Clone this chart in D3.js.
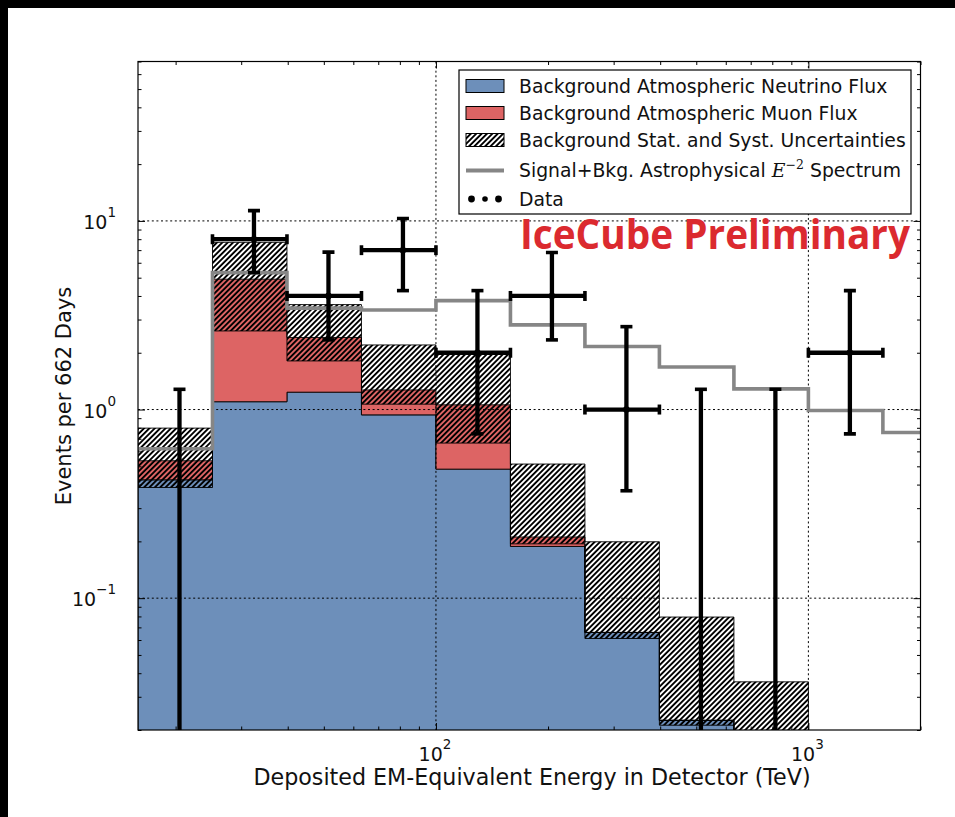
<!DOCTYPE html>
<html>
<head>
<meta charset="utf-8">
<script src="https://cdn.jsdelivr.net/npm/d3@7"></script>
<style>
  body { margin: 0; background: #000; }
  svg { display: block; }
  text { font-family: "DejaVu Sans", sans-serif; }
</style>
</head>
<body>
<svg id="chart" width="955" height="817"></svg>
<script>
// Energy bin edges (TeV), 0.2 in log10 per bin
const binEdges = [15.85, 25.12, 39.81, 63.10, 100.0, 158.5, 251.2, 398.1, 631.0, 1000, 1585, 2512];

// Background expectation per bin (events per 662 days)
const neutrino = [0.424, 1.10, 1.236, 0.937, 0.483, 0.188, 0.0658, 0.0225, 0.012];
const muon     = [0.111, 3.81, 1.174, 0.333, 0.576, 0.023, 0.0, 0.0, 0.0];
const bandLow  = [0.386, 2.61, 1.81, 1.068, 0.664, 0.194, 0.0611, 0.0212, 0.008];
const bandHigh = [0.797, 7.70, 3.60, 2.20, 1.99, 0.514, 0.199, 0.0794, 0.036];

// Signal + background, astrophysical E^-2 spectrum
const signal = [0.619, 5.32, 3.45, 3.37, 3.78, 2.81, 2.16, 1.68, 1.287, 0.988, 0.755];

// Observed events with 1-sigma interval bounds
const dataCounts = [0, 8, 4, 7, 2, 4, 1, 0, 0, 2];
const dataLow    = [0, 5.32, 2.34, 4.27, 0.743, 2.34, 0.371, 0, 0, 0.743];
const dataHigh   = [1.28, 11.34, 6.83, 10.3, 4.27, 6.8, 2.75, 1.28, 1.28, 4.27];

// Axis ticks
const xMajor = [100, 1000];
const xMajorExp = ["2", "3"];
const xMinor = [20, 30, 40, 50, 60, 70, 80, 90, 200, 300, 400, 500, 600, 700, 800, 900, 2000];
const yMajor = [0.1, 1, 10];
const yMajorExp = ["\u22121", "0", "1"];
const yMinor = [0.02, 0.03, 0.04, 0.05, 0.06, 0.07, 0.08, 0.09,
                0.2, 0.3, 0.4, 0.5, 0.6, 0.7, 0.8, 0.9,
                2, 3, 4, 5, 6, 7, 8, 9, 20, 30, 40, 50, 60, 70];

const legendLabels = [
  "Background Atmospheric Neutrino Flux",
  "Background Atmospheric Muon Flux",
  "Background Stat. and Syst. Uncertainties",
  "Signal+Bkg. Astrophysical ",
  "Data"
];

const colBlue = "#6d8fba", colRed = "#dd6464", colGray = "#868686";

const L = 138, R = 920.5, T = 61.5, B = 730;

const svg = d3.select("#chart");
svg.append("rect").attr("x", 8).attr("y", 8).attr("width", 947).attr("height", 809).attr("fill", "#fff");

const x = d3.scaleLog().domain([15.85, 2000]).range([L, R]);
const y = d3.scaleLog().domain([0.02, 70]).range([B, T]);
const yc = v => y(Math.max(v, 1e-3));

const defs = svg.append("defs");
defs.append("clipPath").attr("id", "plotClip")
  .append("rect").attr("x", L).attr("y", T).attr("width", R - L).attr("height", B - T);

const hatch = defs.append("pattern").attr("id", "hatch")
  .attr("patternUnits", "userSpaceOnUse").attr("width", 3.8).attr("height", 3.8)
  .attr("patternTransform", "rotate(45)");
hatch.append("line").attr("x1", 1.9).attr("y1", -1).attr("x2", 1.9).attr("y2", 5)
  .attr("stroke", "#000").attr("stroke-width", 1.9);

// step outline of a per-bin series
function steps(vals) {
  const pts = [];
  vals.forEach((v, i) => {
    pts.push([x(binEdges[i]), yc(v)], [x(binEdges[i + 1]), yc(v)]);
  });
  return pts;
}
function bandPath(lo, hi) {
  const pts = steps(hi).concat(steps(lo).reverse());
  return d3.line()(pts) + "Z";
}

const plot = svg.append("g").attr("clip-path", "url(#plotClip)");
const total = neutrino.map((v, i) => v + muon[i]);
const floor = neutrino.map(() => 1e-3);

plot.append("path").attr("d", bandPath(floor, neutrino))
  .attr("fill", colBlue).attr("stroke", "#000").attr("stroke-width", 0.9);
plot.append("path").attr("d", bandPath(neutrino, total))
  .attr("fill", colRed).attr("stroke", "#000").attr("stroke-width", 0.9);
plot.append("path").attr("d", bandPath(bandLow, bandHigh))
  .attr("fill", "url(#hatch)").attr("stroke", "#000").attr("stroke-width", 0.9);

// dotted grid at major ticks
const grid = plot.append("g").attr("stroke", "#000").attr("stroke-width", 1)
  .attr("stroke-dasharray", "2,2.6");
yMajor.forEach(v => grid.append("line").attr("x1", L).attr("x2", R).attr("y1", y(v)).attr("y2", y(v)));
xMajor.forEach(v => grid.append("line").attr("y1", T).attr("y2", B).attr("x1", x(v)).attr("x2", x(v)));

// signal + background step line
const sigPts = [];
signal.forEach((v, i) => sigPts.push([x(binEdges[i]), y(v)], [x(binEdges[i + 1]), y(v)]));
plot.append("path").attr("d", d3.line()(sigPts))
  .attr("fill", "none").attr("stroke", colGray).attr("stroke-width", 3.6);

// data points with error bars
const bars = plot.append("g").attr("stroke", "#000").attr("fill", "#000");
dataCounts.forEach((c, i) => {
  const cx = x((binEdges[i] + binEdges[i + 1]) / 2);
  const yTop = y(dataHigh[i]);
  const yBot = dataLow[i] > 0 ? y(dataLow[i]) : B + 10;
  bars.append("line").attr("x1", cx).attr("x2", cx).attr("y1", yTop).attr("y2", yBot).attr("stroke-width", 4.3);
  bars.append("line").attr("x1", cx - 6).attr("x2", cx + 6).attr("y1", yTop).attr("y2", yTop).attr("stroke-width", 3.6);
  if (dataLow[i] > 0) {
    bars.append("line").attr("x1", cx - 6).attr("x2", cx + 6).attr("y1", yBot).attr("y2", yBot).attr("stroke-width", 3.6);
  }
  if (c > 0) {
    const cy = y(c), x0 = x(binEdges[i]), x1 = x(binEdges[i + 1]);
    bars.append("line").attr("x1", x0).attr("x2", x1).attr("y1", cy).attr("y2", cy).attr("stroke-width", 4.3);
    [x0, x1].forEach(ex => bars.append("line").attr("x1", ex).attr("x2", ex)
      .attr("y1", cy - 5).attr("y2", cy + 5).attr("stroke-width", 3.6));
    bars.append("circle").attr("cx", cx).attr("cy", cy).attr("r", 3);
  }
});

// frame and inward ticks on all four sides
function tickAxis(axisFn, scale, vals, size, tx, ty) {
  const g = svg.append("g").attr("transform", `translate(${tx},${ty})`)
    .call(axisFn(scale).tickValues(vals).tickSize(-size).tickFormat(""));
  g.select(".domain").remove();
  g.selectAll("line").attr("stroke", "#000").attr("stroke-width", 1);
}
tickAxis(d3.axisBottom, x, xMajor, 7, 0, B);
tickAxis(d3.axisBottom, x, xMinor, 3.5, 0, B);
tickAxis(d3.axisTop, x, xMajor, 7, 0, T);
tickAxis(d3.axisTop, x, xMinor, 3.5, 0, T);
tickAxis(d3.axisLeft, y, yMajor, 7, L, 0);
tickAxis(d3.axisLeft, y, yMinor, 3.5, L, 0);
tickAxis(d3.axisRight, y, yMajor, 7, R, 0);
tickAxis(d3.axisRight, y, yMinor, 3.5, R, 0);

svg.append("rect").attr("x", L).attr("y", T).attr("width", R - L).attr("height", B - T)
  .attr("fill", "none").attr("stroke", "#000").attr("stroke-width", 1.2);

// tick labels as powers of ten
xMajor.forEach((v, i) => {
  const t = svg.append("text").attr("x", x(v) - 1).attr("y", 761).attr("text-anchor", "middle")
    .attr("font-size", 19).attr("fill", "#111");
  t.append("tspan").text("10");
  t.append("tspan").attr("dy", -12).attr("font-size", 13.5).text(xMajorExp[i]);
});
yMajor.forEach((v, i) => {
  const t = svg.append("text").attr("x", 116).attr("y", y(v) + 8).attr("text-anchor", "end")
    .attr("font-size", 19).attr("fill", "#111");
  t.append("tspan").text("10");
  t.append("tspan").attr("dy", -12).attr("font-size", 13.5).text(yMajorExp[i]);
});

// axis titles
svg.append("text").attr("x", 532).attr("y", 785).attr("text-anchor", "middle")
  .attr("font-size", 22.2).attr("fill", "#111")
  .text("Deposited EM-Equivalent Energy in Detector (TeV)");
svg.append("text").attr("transform", "translate(71,396) rotate(-90)").attr("text-anchor", "middle")
  .attr("font-size", 21).attr("fill", "#111")
  .text("Events per 662 Days");

// legend
const lg = svg.append("g");
lg.append("rect").attr("x", 459).attr("y", 70).attr("width", 452).attr("height", 144)
  .attr("fill", "#fff").attr("stroke", "#000").attr("stroke-width", 1.2);
const rowY = [86, 113, 140, 170.5, 199];
const px0 = 466, pw = 38, ph = 13;
lg.append("rect").attr("x", px0).attr("y", rowY[0] - ph / 2).attr("width", pw).attr("height", ph)
  .attr("fill", colBlue).attr("stroke", "#000").attr("stroke-width", 1);
lg.append("rect").attr("x", px0).attr("y", rowY[1] - ph / 2).attr("width", pw).attr("height", ph)
  .attr("fill", colRed).attr("stroke", "#000").attr("stroke-width", 1);
lg.append("rect").attr("x", px0).attr("y", rowY[2] - ph / 2).attr("width", pw).attr("height", ph)
  .attr("fill", "url(#hatch)").attr("stroke", "#000").attr("stroke-width", 1);
lg.append("line").attr("x1", px0).attr("x2", px0 + pw).attr("y1", rowY[3]).attr("y2", rowY[3])
  .attr("stroke", colGray).attr("stroke-width", 4);
[[471.5, 3.4], [485, 2.8], [498.5, 3.4]].forEach(([cx, r]) =>
  lg.append("circle").attr("cx", cx).attr("cy", rowY[4]).attr("r", r).attr("fill", "#000"));

legendLabels.forEach((s, i) => {
  const t = lg.append("text").attr("x", 519).attr("y", rowY[i] + 6.8).attr("font-size", 18.8).attr("fill", "#111");
  t.append("tspan").text(s);
  if (i === 3) {
    t.append("tspan").attr("font-family", "'DejaVu Serif', serif").attr("font-style", "italic").text("E");
    t.append("tspan").attr("dy", -8).attr("font-size", 12.5).attr("font-family", "'DejaVu Serif', serif").text("\u22122");
    t.append("tspan").attr("dy", 8).text(" Spectrum");
  }
});

// watermark
svg.append("text").attr("x", 520).attr("y", 249).attr("font-size", 42).attr("font-weight", 700)
  .attr("fill", "#db2a2f").style("font-family", "'Open Sans', sans-serif")
  .attr("textLength", 390).attr("lengthAdjust", "spacingAndGlyphs")
  .text("IceCube Preliminary");
</script>
</body>
</html>
